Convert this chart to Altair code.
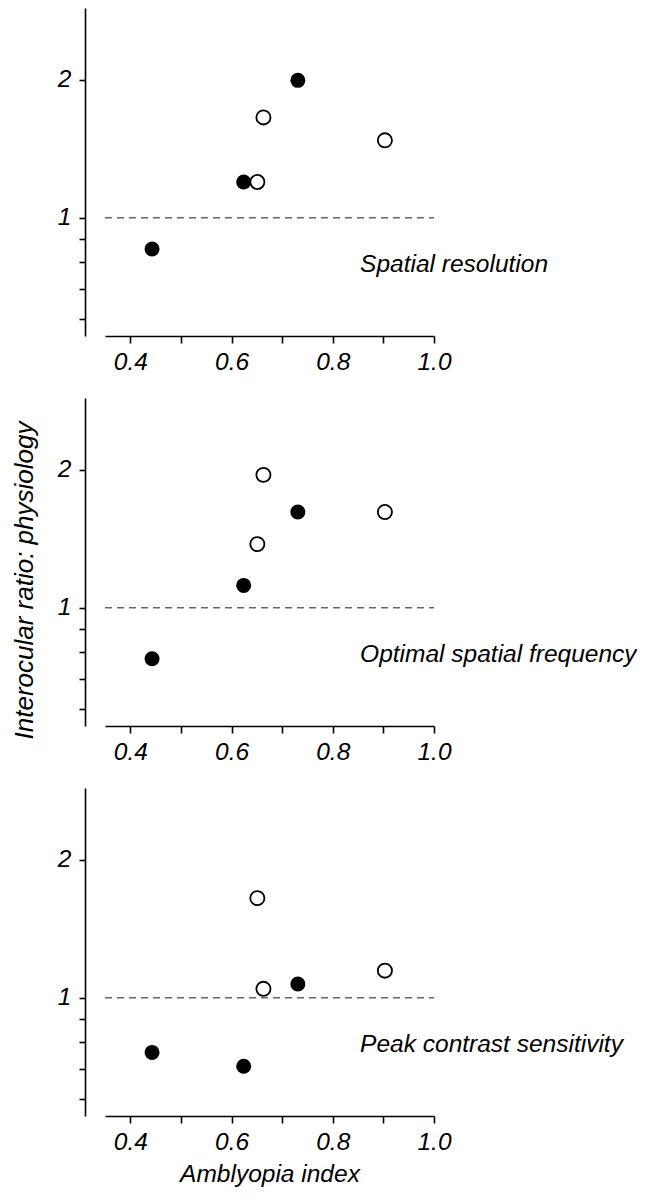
import altair as alt
import pandas as pd

FONT = "Liberation Sans"

# Panel names
panel_names = ["Spatial resolution", "Optimal spatial frequency", "Peak contrast sensitivity"]

# Amblyopia index of each animal (same animals in every panel)
filled_x = [0.443, 0.624, 0.731]
open_x = [0.651, 0.663, 0.903]

# Interocular ratios (physiology), per panel
spatial_filled_y = [0.855, 1.197, 1.995]
spatial_open_y = [1.197, 1.656, 1.476]
optimal_filled_y = [0.774, 1.119, 1.618]
optimal_open_y = [1.377, 1.95, 1.618]
peak_filled_y = [0.760, 0.709, 1.072]
peak_open_y = [1.65, 1.046, 1.146]

# axis ticks
x_ticks = [0.4, 0.5, 0.6, 0.7, 0.8, 0.9, 1.0]
y_ticks = [0.6, 0.7, 0.8, 0.9, 1, 2]
ref_ratio = 1.0
x_domain = [0.35, 1.0]
y_domain = [0.552, 2.87]
label_anchor = (0.854, 0.76)

W, H = 329, 328
FS = 24.5


def panel(name, fy, oy, ytitle, xtitle):
    xscale = alt.Scale(domain=x_domain, nice=False, zero=False)
    yscale = alt.Scale(type="log", domain=y_domain, nice=False)
    xaxis = alt.Axis(
        values=x_ticks,
        labelExpr="(round(datum.value*10) % 2 == 0) ? format(datum.value, '.1f') : ''",
        labelOverlap=False,
        labelFlush=False,
        grid=False,
        tickSize=7,
        labelPadding=7,
        titlePadding=9,
    )
    yaxis = alt.Axis(
        values=y_ticks,
        labelExpr="(datum.value == 1 || datum.value == 2) ? format(datum.value, 'd') : ''",
        labelOverlap=False,
        grid=False,
        offset=20,
        tickSize=6,
        labelPadding=8,
        titlePadding=20,
        titleFontSize=26,
        titleY=182,
    )

    def X(field):
        return alt.X(field, type="quantitative", scale=xscale, axis=xaxis, title=xtitle)

    def Y(field):
        return alt.Y(field, type="quantitative", scale=yscale, axis=yaxis, title=ytitle)

    ref = pd.DataFrame({"x0": [x_domain[0]], "x1": [x_domain[1]], "y": [ref_ratio]})
    rule = alt.Chart(ref).mark_rule(
        color="#666666", strokeDash=[7, 5], strokeWidth=1.3
    ).encode(x=X("x0"), x2="x1", y=Y("y"))

    fdf = pd.DataFrame({"x": filled_x, "y": fy})
    odf = pd.DataFrame({"x": open_x, "y": oy})
    filled = alt.Chart(fdf).mark_circle(
        size=225, color="black", opacity=1
    ).encode(x=X("x"), y=Y("y"))
    opn = alt.Chart(odf).mark_circle(
        size=200, fill="white", stroke="black", strokeWidth=1.8, opacity=1, fillOpacity=1
    ).encode(x=X("x"), y=Y("y"))

    tdf = pd.DataFrame({"lx": [label_anchor[0]], "ly": [label_anchor[1]], "label": [name]})
    text = alt.Chart(tdf).mark_text(
        align="left", baseline="alphabetic", font=FONT, fontSize=FS,
        fontStyle="italic", color="black"
    ).encode(x=X("lx"), y=Y("ly"), text="label:N")

    return alt.layer(rule, filled, opn, text).properties(width=W, height=H)


p1 = panel(panel_names[0], spatial_filled_y, spatial_open_y, None, None)
p2 = panel(panel_names[1], optimal_filled_y, optimal_open_y, "Interocular ratio: physiology", None)
p3 = panel(panel_names[2], peak_filled_y, peak_open_y, None, "Amblyopia index")

chart = alt.vconcat(p1, p2, p3, spacing=24).properties(
    padding={"left": 3, "top": 0, "right": 0, "bottom": 4}
).configure_view(stroke=None).configure_axis(
    domainColor="black",
    tickColor="black",
    domainWidth=1.6,
    tickWidth=1.6,
    labelFont=FONT,
    labelFontSize=FS,
    labelFontStyle="italic",
    labelColor="black",
    titleFont=FONT,
    titleFontSize=FS,
    titleFontStyle="italic",
    titleFontWeight="normal",
    titleColor="black",
)

chart.save("out.html", embed_options={"renderer": "svg", "actions": False})
